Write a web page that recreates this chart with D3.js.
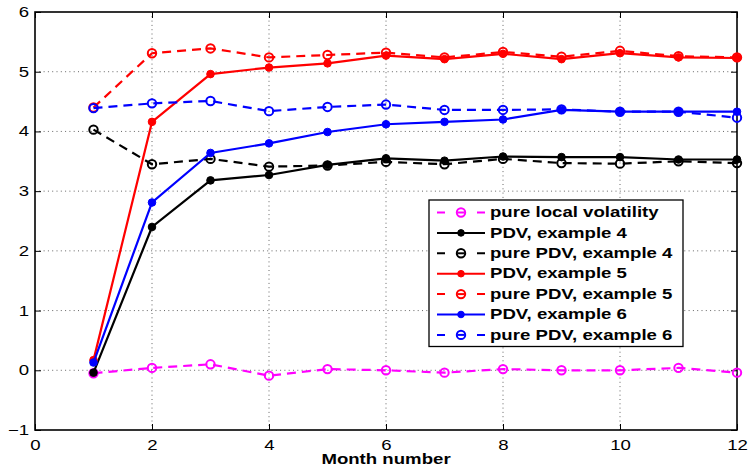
<!DOCTYPE html>
<html>
<head>
<meta charset="utf-8">
<script src="https://cdn.jsdelivr.net/npm/d3@7"></script>
<style>
  html, body { margin: 0; padding: 0; background: #fff; }
  svg { display: block; }
  text { font-family: "Liberation Sans", Arial, Helvetica, sans-serif; fill: #000; }
</style>
</head>
<body>
<svg id="chart" width="749" height="466"></svg>
<script>
// ---------------- data ----------------
const months = [1, 2, 3, 4, 5, 6, 7, 8, 9, 10, 11, 12];
const pureLocalVol = [-0.05, 0.04, 0.10, -0.09, 0.02, 0.00, -0.04, 0.02, 0.00, 0.00, 0.04, -0.04];
const pdv4      = [-0.04, 2.40, 3.18, 3.27, 3.44, 3.55, 3.51, 3.58, 3.57, 3.57, 3.53, 3.53];
const purePdv4  = [4.03, 3.45, 3.54, 3.41, 3.43, 3.49, 3.45, 3.54, 3.47, 3.46, 3.50, 3.47];
const pdv5      = [0.17, 4.16, 4.96, 5.07, 5.14, 5.27, 5.21, 5.30, 5.21, 5.31, 5.24, 5.23];
const purePdv5  = [4.40, 5.31, 5.39, 5.24, 5.28, 5.32, 5.24, 5.33, 5.25, 5.35, 5.26, 5.24];
const pdv6      = [0.13, 2.81, 3.64, 3.80, 3.99, 4.12, 4.16, 4.20, 4.36, 4.33, 4.33, 4.33];
const purePdv6  = [4.39, 4.47, 4.51, 4.34, 4.41, 4.45, 4.36, 4.36, 4.37, 4.33, 4.33, 4.23];

const seriesLabels = ["pure local volatility", "PDV, example 4", "pure PDV, example 4",
                      "PDV, example 5", "pure PDV, example 5", "PDV, example 6", "pure PDV, example 6"];
const seriesValues = [pureLocalVol, pdv4, purePdv4, pdv5, purePdv5, pdv6, purePdv6];
const seriesColors = ["#ff00ff", "#000000", "#000000", "#ff0000", "#ff0000", "#0000ff", "#0000ff"];
const seriesDashed = [true, false, true, false, true, false, true];

const xTicks = [0, 2, 4, 6, 8, 10, 12];
const yTicks = [-1, 0, 1, 2, 3, 4, 5, 6];
const xLabel = "Month number";

// ---------------- layout ----------------
const SX = 1.33; // horizontal stretch of the text in the reference
const svg = d3.select("#chart");
const pL = 35, pR = 737, pT = 12, pB = 430;
const x = d3.scaleLinear().domain([0, 12]).range([pL, pR]);
const y = d3.scaleLinear().domain([-1, 6]).range([pB, pT]);

// grid
const grid = svg.append("g").attr("class", "grid");
grid.selectAll("line.v").data(xTicks.slice(1, -1)).join("line")
  .attr("x1", d => x(d)).attr("x2", d => x(d))
  .attr("y1", pT).attr("y2", pB)
  .attr("stroke", "#666").attr("stroke-width", 1).attr("stroke-dasharray", "1,3.3");
grid.selectAll("line.h").data(yTicks.slice(1, -1)).join("line")
  .attr("x1", pL).attr("x2", pR)
  .attr("y1", d => y(d)).attr("y2", d => y(d))
  .attr("stroke", "#666").attr("stroke-width", 1).attr("stroke-dasharray", "1,3.3");

// axes
const tickLen = 6;
const gx = svg.append("g").attr("transform", `translate(0,${pB})`)
  .call(d3.axisBottom(x).tickValues(xTicks).tickFormat(d3.format("d"))
    .tickSizeInner(-tickLen).tickSizeOuter(0).tickPadding(8));
const gxTop = svg.append("g").attr("transform", `translate(0,${pT})`)
  .call(d3.axisTop(x).tickValues(xTicks).tickSizeInner(-tickLen).tickSizeOuter(0).tickFormat(""));
const gy = svg.append("g").attr("transform", `translate(${pL},0)`)
  .call(d3.axisLeft(y).tickValues(yTicks).tickFormat(d3.format("d"))
    .tickSizeInner(-tickLen).tickSizeOuter(0).tickPadding(6));
const gyR = svg.append("g").attr("transform", `translate(${pR},0)`)
  .call(d3.axisRight(y).tickValues(yTicks).tickSizeInner(-tickLen).tickSizeOuter(0).tickFormat(""));

[gx, gxTop, gy, gyR].forEach(g => {
  g.select(".domain").remove();
  g.selectAll(".tick line").attr("stroke", "#000").attr("stroke-width", 1);
});
gx.selectAll(".tick text")
  .attr("font-size", 14).attr("font-family", "Liberation Sans, Arial, sans-serif")
  .attr("y", 10).attr("dy", "0.71em")
  .attr("transform", `scale(${SX},1)`);
gy.selectAll(".tick text")
  .attr("font-size", 14).attr("font-family", "Liberation Sans, Arial, sans-serif")
  .attr("x", -6 / SX)
  .attr("transform", `scale(${SX},1)`);

// frame
svg.append("rect").attr("x", pL).attr("y", pT)
  .attr("width", pR - pL).attr("height", pB - pT)
  .attr("fill", "none").attr("stroke", "#000").attr("stroke-width", 1.6);

// x label
svg.append("text")
  .attr("transform", `translate(${(pL + pR) / 2},464) scale(${SX},1)`)
  .attr("text-anchor", "middle").attr("font-weight", "bold").attr("font-size", 14)
  .text(xLabel);

// ---------------- series ----------------
const line = d3.line().x((d, i) => x(months[i])).y(d => y(d));
const plot = svg.append("g");
seriesValues.forEach((vals, k) => {
  const g = plot.append("g");
  g.append("path").datum(vals)
    .attr("d", line)
    .attr("fill", "none")
    .attr("stroke", seriesColors[k]).attr("stroke-width", 2.2)
    .attr("stroke-dasharray", seriesDashed[k] ? "9,6" : null);
  g.selectAll("circle").data(vals).join("circle")
    .attr("cx", (d, i) => x(months[i])).attr("cy", d => y(d))
    .attr("r", seriesDashed[k] ? 4.2 : 3.8)
    .attr("fill", seriesDashed[k] ? "none" : seriesColors[k])
    .attr("stroke", seriesColors[k]).attr("stroke-width", seriesDashed[k] ? 2 : 1);
});

// ---------------- legend ----------------
const lg = svg.append("g");
const lgX = 429, lgY = 200, lgW = 254, lgH = 146.5;
lg.append("rect").attr("x", lgX).attr("y", lgY).attr("width", lgW).attr("height", lgH)
  .attr("fill", "#fff").attr("stroke", "#000").attr("stroke-width", 1.3);
const rowY = i => 212.5 + i * 20.4;
seriesLabels.forEach((lab, k) => {
  const cy = rowY(k);
  lg.append("line").attr("x1", 437).attr("x2", 485).attr("y1", cy).attr("y2", cy)
    .attr("stroke", seriesColors[k]).attr("stroke-width", 2)
    .attr("stroke-dasharray", seriesDashed[k] ? "8,32" : null);
  lg.append("circle").attr("cx", 461).attr("cy", cy)
    .attr("r", seriesDashed[k] ? 4.2 : 3.3)
    .attr("fill", seriesDashed[k] ? "none" : seriesColors[k])
    .attr("stroke", seriesColors[k]).attr("stroke-width", seriesDashed[k] ? 2 : 1);
  if (seriesDashed[k]) {
    lg.append("line").attr("x1", 457.5).attr("x2", 464.5).attr("y1", cy).attr("y2", cy)
      .attr("stroke", seriesColors[k]).attr("stroke-width", 2);
  }
  lg.append("text")
    .attr("transform", `translate(490,${cy + 4.7}) scale(${SX},1)`)
    .attr("font-weight", "bold").attr("font-size", 14)
    .text(lab);
});
</script>
</body>
</html>
